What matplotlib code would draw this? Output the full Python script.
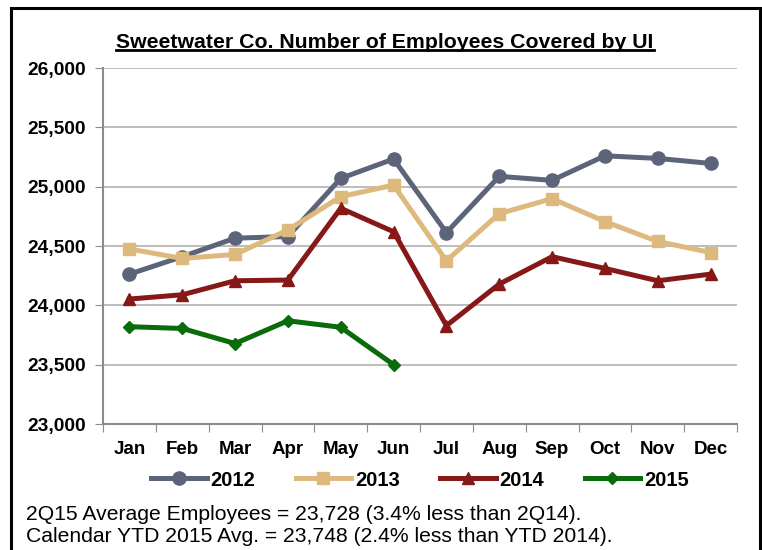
import matplotlib
matplotlib.use("Agg")
import matplotlib.pyplot as plt
from matplotlib.lines import Line2D
from matplotlib.patches import Rectangle
import numpy as np

months = ["Jan", "Feb", "Mar", "Apr", "May", "Jun", "Jul", "Aug", "Sep", "Oct", "Nov", "Dec"]
y2012 = [24263, 24410, 24566, 24580, 25070, 25233, 24613, 25087, 25053, 25260, 25238, 25196]
y2013 = [24475, 24395, 24429, 24635, 24916, 25013, 24375, 24773, 24899, 24706, 24538, 24445]
y2014 = [24053, 24089, 24207, 24213, 24818, 24620, 23829, 24179, 24410, 24311, 24207, 24263]
y2015 = [23820, 23805, 23678, 23870, 23815, 23500]
series_labels = ["2012", "2013", "2014", "2015"]
yticks = [23000, 23500, 24000, 24500, 25000, 25500, 26000]
title = "Sweetwater Co. Number of Employees Covered by UI"
notes = ["2Q15 Average Employees = 23,728 (3.4% less than 2Q14).",
         "Calendar YTD 2015 Avg. = 23,748 (2.4% less than YTD 2014)."]

plt.rcParams['font.family'] = ['Liberation Sans', 'DejaVu Sans']

W, H = 762, 550
fig = plt.figure(figsize=(W / 100, H / 100), dpi=100)
ax = fig.add_axes([103 / W, 1 - 424 / H, (737 - 103) / W, (424 - 68) / H])

colors = ["#5B6479", "#DDB97E", "#861818", "#0A6B0A"]
markers = ["o", "s", "^", "D"]
msizes = [9.5, 9, 9, 6.5]
data = [y2012, y2013, y2014, y2015]
handles = []
for d, c, m, ms, lab in zip(data, colors, markers, msizes, series_labels):
    x = np.arange(len(d))
    h, = ax.plot(x, d, color=c, marker=m, markersize=ms, linewidth=3.6,
                 markeredgecolor=c, label=lab, zorder=3)
    handles.append(h)

ax.set_xlim(-0.5, 11.5)
ax.set_ylim(23000, 26000)
ax.set_yticks(yticks)
ax.set_yticklabels([f"{v:,}" for v in yticks], fontsize=13.8, fontweight='bold')
ax.set_xticks(np.arange(-0.5, 12, 1))
ax.set_xticklabels([])
ax.set_xticks(np.arange(12), minor=True)
ax.set_xticklabels(months, minor=True, fontsize=13.5, fontweight='bold')
ax.tick_params(axis='x', which='major', length=6, color='#8C8C8C', direction='out')
ax.tick_params(axis='x', which='minor', length=0, pad=12)
ax.tick_params(axis='y', length=6, color='#8C8C8C', direction='out', pad=6)
ax.grid(axis='y', color='#ABABAB', linewidth=1.1, zorder=0)
for s in ['top', 'right']:
    ax.spines[s].set_visible(False)
for s in ['left', 'bottom']:
    ax.spines[s].set_color('#8C8C8C')
    ax.spines[s].set_linewidth(1.5)

# Title with underline
t = fig.text(385 / W, 1 - 42 / H, title, ha='center', va='center',
             fontsize=15.3, fontweight='bold')

# Legend
leg = fig.legend(handles=handles, loc='center', bbox_to_anchor=(420 / W, 1 - 480 / H),
                 ncol=4, frameon=False, handlelength=2.75, handletextpad=0.2,
                 columnspacing=2.0, prop={'weight': 'bold', 'size': 14.5})

for i, n in enumerate(notes):
    fig.text(26 / W, 1 - (515 + 22 * i) / H, n, ha='left', va='center', fontsize=15.2)

# Border
fig.patches.append(Rectangle((11 / W, -0.05), (760 - 11) / W, (1 - 8 / H) + 0.05,
                             transform=fig.transFigure, fill=False,
                             edgecolor='black', linewidth=2.2, clip_on=False))

fig.canvas.draw()
bb = t.get_window_extent(renderer=fig.canvas.get_renderer())
inv = fig.transFigure.inverted()
(x0, y0), (x1, y1) = inv.transform([(bb.x0, bb.y0), (bb.x1, bb.y0)])
fig.add_artist(Line2D([x0, x1], [y0 + 1.5 / H, y0 + 1.5 / H], transform=fig.transFigure,
                      color='black', linewidth=2.0))

fig.savefig("out.png", dpi=100)
